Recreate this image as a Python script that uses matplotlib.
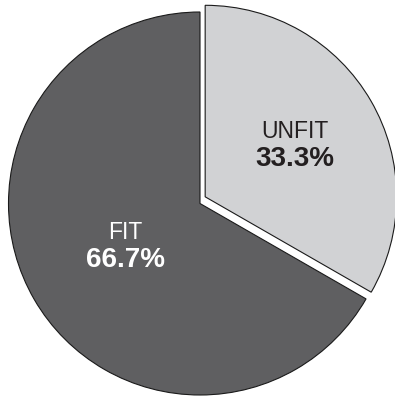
import numpy as np
import matplotlib.pyplot as plt

plt.switch_backend('Agg')
plt.rcParams['font.family'] = ['Liberation Sans', 'DejaVu Sans']

labels = ['FIT', 'UNFIT']
shares = [66.7, 33.3]
colors = ['#5f5f61', '#d1d2d4']
text_colors = ['white', '#231f20']
label_radius = [0.45, 0.54]

fig = plt.figure(figsize=(3.95, 3.96), dpi=100)
ax = fig.add_axes([0, 0, 1, 1])

# UNFIT drawn first from the top, clockwise
wedges, _ = ax.pie(shares[::-1], colors=colors[::-1], startangle=90, counterclock=False,
                   radius=1.0, wedgeprops=dict(edgecolor='#1a1a1a', linewidth=0.8))
wedges = wedges[::-1]

# slice the UNFIT wedge out a bit
wedges[1].set_center((0.027, 0.035))

for w, lab, val, tc, r in zip(wedges, labels, shares, text_colors, label_radius):
    mid = np.deg2rad((w.theta1 + w.theta2) / 2)
    cx, cy = w.center
    x = cx + r * np.cos(mid)
    y = cy + r * np.sin(mid)
    ax.text(x, y + 0.072, lab, ha='center', va='center', fontsize=16.5, color=tc)
    ax.text(x, y - 0.072, f'{val:.1f}%', ha='center', va='center', fontsize=20,
            fontweight='bold', color=tc)

ax.set_xlim(-200 / 191.5, 195 / 191.5)
ax.set_ylim(-(396 - 203.5) / 191.5, 203.5 / 191.5)
ax.set_aspect('auto')
ax.axis('off')

fig.savefig('out.png', dpi=100)
